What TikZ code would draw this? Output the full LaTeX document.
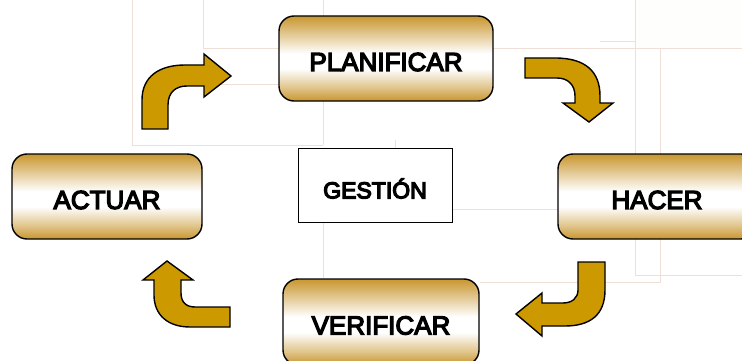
\documentclass[tikz,border=0pt]{standalone}
\usepackage{fontspec}
\setmainfont{Liberation Sans}
\definecolor{boxgold}{HTML}{C8962F}
\definecolor{arrgold}{HTML}{CC9900}
\definecolor{faint}{HTML}{EEE0D8}
\pgfdeclareverticalshading{goldbar}{100bp}{color(0bp)=(boxgold); color(25bp)=(boxgold); color(33bp)=(boxgold!55); color(44bp)=(white); color(53bp)=(white); color(65bp)=(boxgold!55); color(75bp)=(boxgold); color(100bp)=(boxgold)}
\newcommand\heavytext[1]{\raisebox{-3.5pt}[\height][\depth]{\special{pdf:literal direct 2 Tr 1.3 w}#1\special{pdf:literal direct 0 Tr}}}
\tikzset{
  phase/.style={draw=black, line width=1.4pt, rounded corners=15pt, shading=goldbar,
    minimum height=85pt, inner sep=0pt, font=\fontsize{26}{30}\selectfont},
  centerbox/.style={draw=black, line width=1pt, fill=white, inner sep=0pt,
    minimum width=154pt, minimum height=74pt, font=\fontsize{23}{27}\selectfont},
  bentarrow/.style={fill=arrgold, draw=black, line width=1.4pt, line join=miter},
  gridline/.style={draw=faint, line width=0.8pt}
}
\begin{document}
\begin{tikzpicture}[x=1pt, y=-1pt]
\useasboundingbox (0,0) rectangle (742,361);
\clip (0,0) rectangle (742,361);
% faint background lines
\fill[white!96!faint] (635,0) rectangle (742,48);
\draw[gridline] (132,0) -- (132,145) -- (323,145);
\draw[gridline] (203,0) -- (203,48) -- (280,48);
\draw[gridline] (203,84) -- (280,84);
\draw[gridline] (323,0) -- (323,145);
\draw[gridline] (492,48) -- (742,48);
\draw[gridline] (600,41) -- (635,41);
\draw[gridline] (635,0) -- (635,275) -- (742,275);
\draw[gridline] (660,48) -- (660,282) -- (480,282);
\draw[gridline] (395,140) -- (395,209) -- (560,209);
\draw[gridline] (323,200) -- (323,278);
% boxes
\node[phase, minimum width=214pt] (plan) at (386,58.5) {\heavytext{PLANIFICAR}};
\node[phase, minimum width=190pt] (act) at (107,196.5) {\heavytext{ACTUAR}};
\node[phase, minimum width=198pt] (hac) at (657,196.5) {\heavytext{HACER}};
\node[phase, minimum width=196pt, minimum height=86pt] (ver) at (381,322) {\heavytext{VERIFICAR}};
\node[centerbox] (ges) at (375,185) {\heavytext{GESTIÓN}};
% arrows
\draw[bentarrow] (142,129) -- (142,100) .. controls (142,76) and (160,65) .. (185,65)
  -- (204,65) -- (204,54) -- (231,76) -- (204,97) -- (204,86) -- (187,86)
  .. controls (176,86) and (168,92) .. (168,105) -- (168,129) -- cycle;
\draw[bentarrow] (525,58) -- (555,58) .. controls (586,58) and (600,72) .. (600,96)
  -- (600,103) -- (613,103) -- (589,122) -- (563,103) -- (575,103) -- (575,96)
  .. controls (575,85) and (568,78) .. (557,78) -- (525,78) -- cycle;
\draw[bentarrow] (578,262) -- (605,262) -- (605,290) .. controls (605,315) and (590,326) .. (565,326)
  -- (542,326) -- (542,336) -- (516,314) -- (542,293) -- (542,303) -- (563,303)
  .. controls (572,303) and (578,298) .. (578,290) -- cycle;
\draw[bentarrow] (230,307) -- (195,307) .. controls (186,307) and (181,302) .. (181,293)
  -- (181,280) -- (193,280) -- (167,261) -- (143,280) -- (154,280) -- (154,295)
  .. controls (154,315) and (168,327) .. (190,327) -- (230,327) -- cycle;
\end{tikzpicture}
\end{document}
